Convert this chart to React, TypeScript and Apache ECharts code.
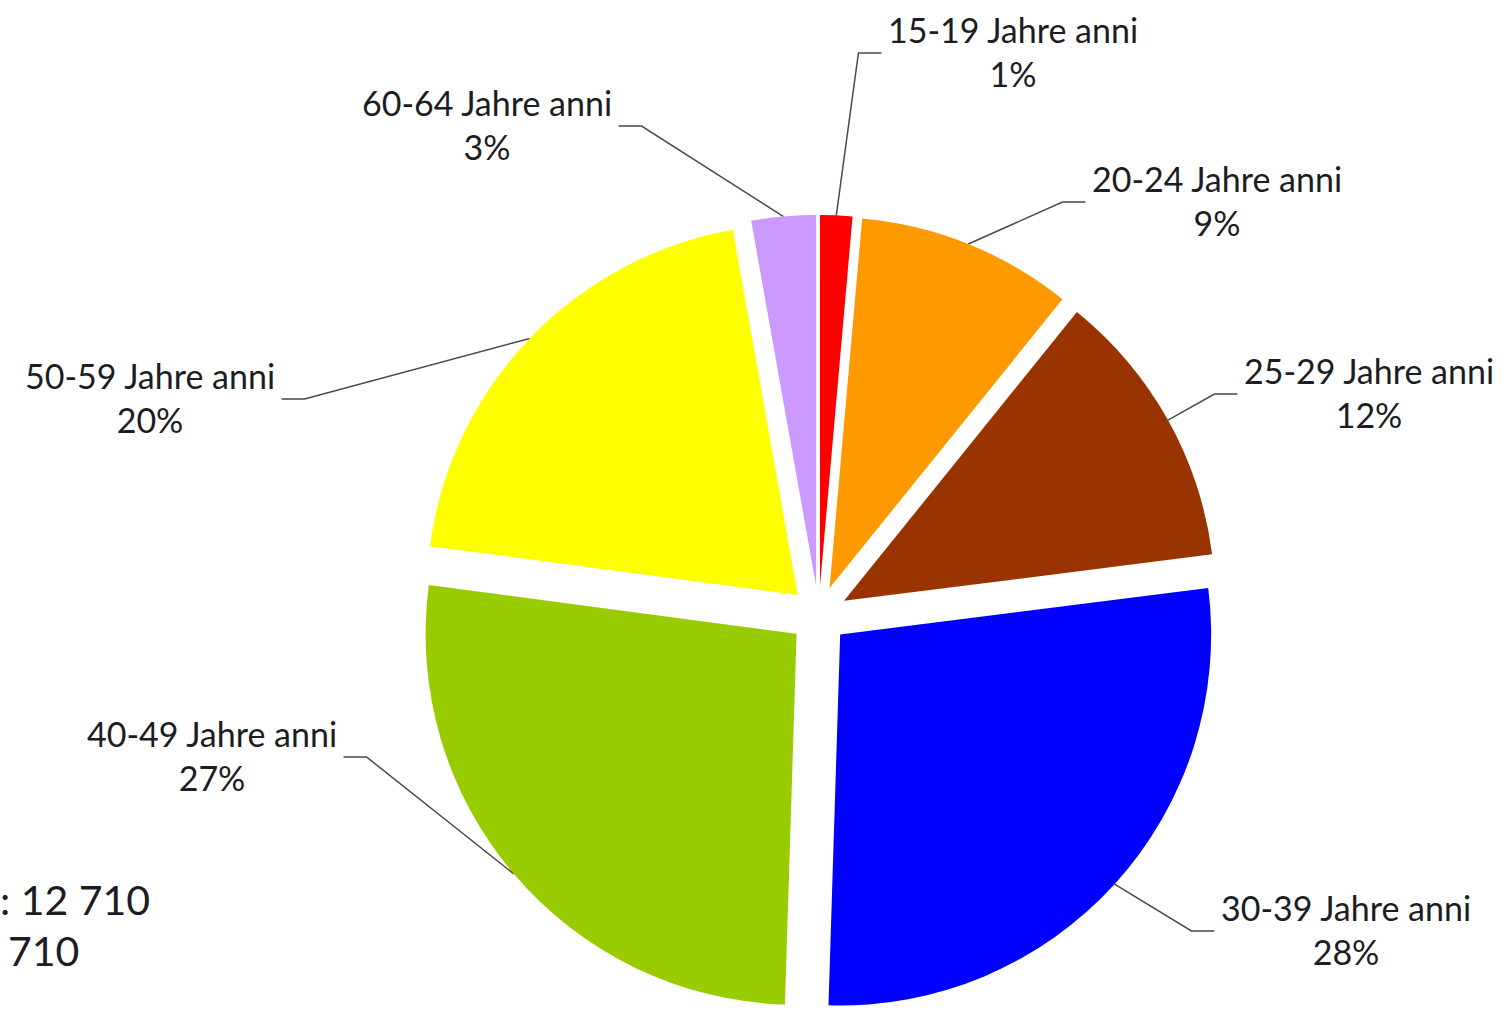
import React, { useEffect, useRef } from 'react';
import * as echarts from 'echarts';

const categories = [
  '15-19 Jahre anni',
  '20-24 Jahre anni',
  '25-29 Jahre anni',
  '30-39 Jahre anni',
  '40-49 Jahre anni',
  '50-59 Jahre anni',
  '60-64 Jahre anni',
];
const shares = [1.4, 9.4, 12.2, 27.5, 26.6, 20.1, 2.8];
const colors = ['#FF0000', '#FF9900', '#993300', '#0000FF', '#99CC00', '#FFFF00', '#CC99FF'];
const totalLines = [': 12 710', '710'];

// centre of each label block (layout only)
const labelAnchors: [number, number][] = [
  [1013, 51],
  [1217, 200],
  [1369, 392],
  [1346, 929],
  [212, 755],
  [150, 397],
  [487, 124],
];

export default function App() {
  const ref = useRef<HTMLDivElement>(null);
  useEffect(() => {
    document.body.style.margin = '0';
    const chart = echarts.init(ref.current!, null, { renderer: 'svg' });
    const CENTER = [818.7, 615];
    const R = 371;
    const OFFSET = 29;
    const data = categories.map((name, i) => ({ name, value: shares[i] }));
    const font = 'Lato';
    chart.setOption({
      animation: false,
      backgroundColor: '#ffffff',
      series: [
        {
          type: 'pie',
          center: CENTER,
          radius: R,
          startAngle: 90,
          clockwise: true,
          selectedMode: 'multiple',
          selectedOffset: OFFSET,
          silent: true,
          label: { show: false },
          labelLine: { show: false },
          emphasis: { disabled: true },
          data: data.map((d, i) => ({ ...d, selected: true, itemStyle: { color: colors[i] } })),
        },
        {
          type: 'pie',
          center: CENTER,
          radius: R + OFFSET,
          startAngle: 90,
          clockwise: true,
          silent: true,
          selectedMode: false,
          percentPrecision: 0,
          avoidLabelOverlap: false,
          itemStyle: { color: 'rgba(0,0,0,0)' },
          emphasis: { disabled: true },
          label: {
            show: true,
            position: 'outside',
            formatter: '{b}\n{d}%',
            fontFamily: font,
            fontSize: 34,
            lineHeight: 44,
            color: '#1c1c24',
          },
          labelLine: { show: true, lineStyle: { color: '#4a4a4a', width: 1.5 } },
          labelLayout: (p: any) => {
            const i = p.dataIndex;
            const [ax, ay] = labelAnchors[i];
            const start = p.labelLinePoints ? p.labelLinePoints[0] : [ax, ay];
            const w = p.labelRect.width;
            const right = ax > start[0];
            const endX = right ? ax - w / 2 - 6 : ax + w / 2 + 6;
            const bendX = right ? endX - 23 : endX + 23;
            return {
              x: ax,
              y: ay,
              align: 'center',
              verticalAlign: 'middle',
              labelLinePoints: [start, [bendX, ay + 2], [endX, ay + 2]],
            };
          },
          data,
        },
      ],
      graphic: [
        {
          type: 'text',
          left: 0,
          top: 879,
          style: { text: totalLines[0], font: `41px ${font}`, fill: '#1c1c24' },
        },
        {
          type: 'text',
          left: 8,
          top: 930,
          style: { text: totalLines[1], font: `41px ${font}`, fill: '#1c1c24' },
        },
      ],
    });
    return () => chart.dispose();
  }, []);
  return <div ref={ref} style={{ width: 1511, height: 1012 }} />;
}
